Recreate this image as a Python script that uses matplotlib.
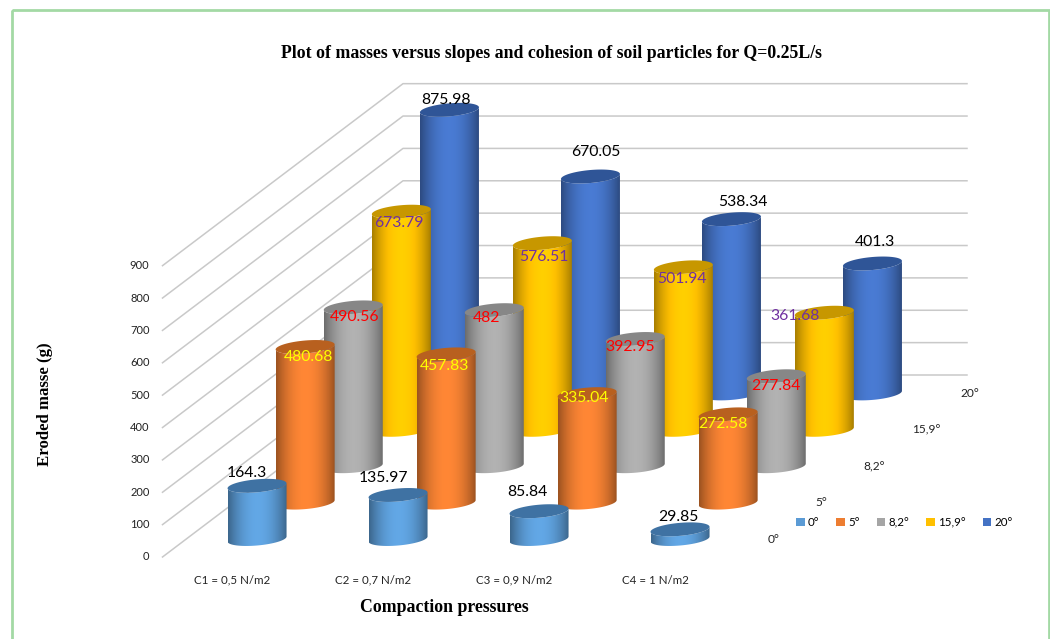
import numpy as np
import matplotlib
matplotlib.use("Agg")
import matplotlib.pyplot as plt
from matplotlib.patches import Patch, Polygon, Rectangle
from matplotlib.path import Path
from matplotlib.colors import to_rgb

# eroded mass per compaction pressure, one list per slope
categories = ["C1 = 0,5 N/m2", "C2 = 0,7 N/m2", "C3 = 0,9 N/m2", "C4 = 1 N/m2"]
slopes = ["0°", "5°", "8,2°", "15,9°", "20°"]
mass_0 = [164.3, 135.97, 85.84, 29.85]
mass_5 = [480.68, 457.83, 335.04, 272.58]
mass_82 = [490.56, 482, 392.95, 277.84]
mass_159 = [673.79, 576.51, 501.94, 361.68]
mass_20 = [875.98, 670.05, 538.34, 401.3]
value_ticks = [0, 100, 200, 300, 400, 500, 600, 700, 800, 900]

series = [mass_0, mass_5, mass_82, mass_159, mass_20]
side_colors = ["#5B9BD5", "#ED7D31", "#A5A5A5", "#FFC000", "#4472C4"]
top_colors = ["#3F72A3", "#B8601F", "#878787", "#C79700", "#2F5597"]
label_colors = ["black", "#FFFF00", "#FF0000", "#7030A0", "black"]

# hand placed label nudges in px, as (dx, dy) from the top of each cylinder
label_nudge = [
    [(-10, -13), (-15, -17), (-12, -19), (-2, -12)],
    [(3, 10), (-2, 12), (-3, 4), (-5, 10)],
    [(1, 10), (-8, 8), (-5, 8), (0, 10)],
    [(-2, 12), (1, 14), (-1, 12), (-29, 3)],
    [(-3, -10), (5, -24), (11, -17), (3, -21)],
]

# oblique projection of the chart box, in figure pixels
X0, Y0 = 162.5, 557.0
CAT_W = 141.0
DEPTH_DX, DEPTH_DY = 48.1, 36.4
PX_PER_UNIT = 0.3237
RX, RY, SKEW = 29.5, 6.5, 2.5


def project(cat, depth, value=0.0):
    x = X0 + CAT_W * cat + DEPTH_DX * depth
    y = Y0 - DEPTH_DY * depth - PX_PER_UNIT * value
    return x, y


def ellipse(cx, cy, t):
    return cx + RX * np.cos(t), cy + RY * np.sin(t) - SKEW * np.cos(t)


def shade(color):
    rgb = np.array(to_rgb(color))
    u = np.linspace(-1, 1, 80)
    light = 1.08 - 0.42 * np.abs(u) ** 2.0
    return np.clip(rgb[None, None, :] * light[None, :, None], 0, 1)


def draw_cylinder(ax, cx, base_y, top_y, side, top, z):
    t = np.linspace(0, np.pi, 60)
    bx, by = ellipse(cx, base_y, t)
    ux, uy = ellipse(cx, top_y, t[::-1])
    body = np.column_stack([np.r_[bx, ux], np.r_[by, uy]])
    img = ax.imshow(shade(side), extent=(cx - RX, cx + RX, base_y + RY + 4, top_y - RY - 4),
                    aspect="auto", interpolation="bilinear", zorder=z)
    img.set_clip_path(Path(body), ax.transData)
    t = np.linspace(0, 2 * np.pi, 90)
    tx, ty = ellipse(cx, top_y, t)
    ax.add_patch(Polygon(np.column_stack([tx, ty]), closed=True, fc=top, ec="none", zorder=z + 0.1))


fig = plt.figure(figsize=(10.5, 6.39), dpi=100)
ax = fig.add_axes([0, 0, 1, 1])
ax.axis("off")

font = "Lato"
serif = "Liberation Serif"

# outer frame, its bottom edge falls below the figure
ax.add_patch(Rectangle((11.5, 10), 1037, 640, fill=False, ec="#A3D9A5", lw=2.0, zorder=1))

# value gridlines run along the floor side wall, then across the back wall
for v in value_ticks:
    fx, fy = project(0, 0, v)
    bx, by = project(0, 5, v)
    ex, ey = project(4, 5, v)
    ax.plot([fx, bx, ex], [fy, by, ey], color="#C9C9C9", lw=1.1, zorder=2)
    ax.text(fx - 13, fy, str(v), ha="right", va="center", fontsize=8, family=font, color="#222222")

# back to front so the nearer cylinders cover the farther ones
for d in range(len(series) - 1, -1, -1):
    for c, value in enumerate(series[d]):
        cx, base_y = project(c + 0.5, d + 0.5)
        base_y += 0.2
        top_y = base_y - PX_PER_UNIT * value
        z = 10 + (len(series) - d) * 2 + c * 0.2
        draw_cylinder(ax, cx, base_y, top_y, side_colors[d], top_colors[d], z)

# value labels stay above all cylinders
for d, values in enumerate(series):
    for c, value in enumerate(values):
        cx, base_y = project(c + 0.5, d + 0.5)
        dx, dy = label_nudge[d][c]
        ax.text(cx + dx, base_y - PX_PER_UNIT * value + dy, f"{value:g}", ha="center", va="center",
                fontsize=11.3, family=font, color=label_colors[d], zorder=40)

for c, name in enumerate(categories):
    x, y = project(c + 0.5, 0)
    ax.text(x - 0.5, y + 23, name, ha="center", va="center", fontsize=8.3, family=font, color="#222222")

for d, name in enumerate(slopes):
    x, y = project(4, d + 0.5)
    ax.text(x + 17, y + 0.5, name, ha="left", va="center", fontsize=8.6, family=font, color="#222222")

ax.text(551, 53, "Plot of masses versus slopes and cohesion of soil particles for Q=0.25L/s",
        ha="center", va="center", fontsize=12.8, family=serif, weight="bold")
ax.text(444, 608, "Compaction pressures", ha="center", va="center", fontsize=12.8, family=serif, weight="bold")
ax.text(45, 404, "Eroded masse (g)", ha="center", va="center", rotation=90, fontsize=12.1, family=serif, weight="bold")

handles = [Patch(fc=col, ec="none", label=s) for col, s in zip(side_colors, slopes)]
ax.legend(handles=handles, ncol=5, loc="center left", bbox_to_anchor=(796 / 1050, 1 - 522.5 / 639),
          frameon=False, prop={"family": font, "size": 8.3}, handlelength=0.75, handleheight=0.75,
          handletextpad=0.3, columnspacing=1.45, borderpad=0, borderaxespad=0)

ax.set_xlim(0, 1050)
ax.set_ylim(639, 0)
fig.savefig("out.png", dpi=100, facecolor="white")
